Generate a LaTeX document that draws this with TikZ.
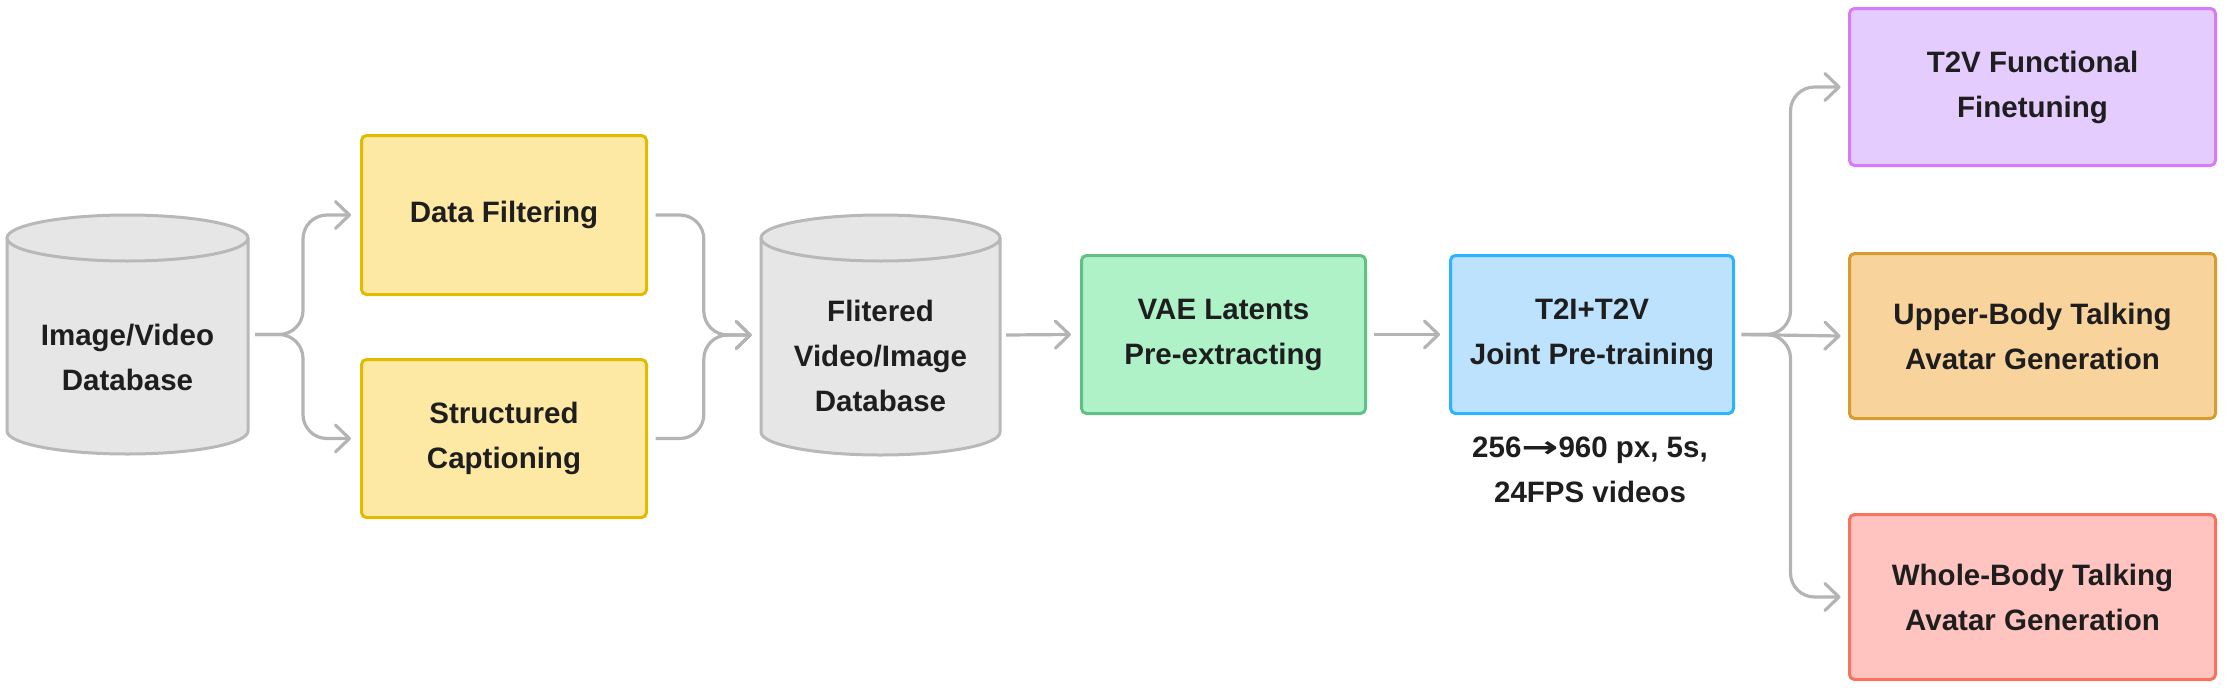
\documentclass[tikz,border=0pt]{standalone}
\usepackage{fontspec}
\setmainfont{Liberation Sans}
\newfontfamily\symfont{DejaVu Sans}
\usetikzlibrary{arrows.meta}
\definecolor{txt}{HTML}{1E1E1E}
\definecolor{arr}{HTML}{B4B4B4}
\definecolor{cylfill}{HTML}{E6E6E6}
\definecolor{cylline}{HTML}{B8B8B8}
\definecolor{yfill}{HTML}{FEE9A4}
\definecolor{yline}{HTML}{E2BA00}
\definecolor{gfill}{HTML}{AFF2C8}
\definecolor{gline}{HTML}{62BF85}
\definecolor{bfill}{HTML}{BDE2FD}
\definecolor{bline}{HTML}{2DB2FF}
\definecolor{pfill}{HTML}{E5CCFF}
\definecolor{pline}{HTML}{D47CFB}
\definecolor{ofill}{HTML}{F9D39C}
\definecolor{oline}{HTML}{D89B32}
\definecolor{rfill}{HTML}{FFC4C0}
\definecolor{rline}{HTML}{F7735F}
\begin{document}
\begin{tikzpicture}[x=1pt,y=-1pt,
  font=\bfseries\fontsize{29.5}{45}\selectfont,
  box/.style={rectangle, rounded corners=5pt, line width=3pt, align=center, inner sep=0pt, text=txt},
  label/.style={align=center, inner sep=0pt, text=txt},
  holder/.style={rectangle, inner sep=0pt},
  conn/.style={draw=arr, line width=3.2pt, rounded corners=24pt, -{Straight Barb[length=14pt,width=27pt,round]}},
  cylline/.style={draw=cylline, line width=3pt}]
\useasboundingbox (0,0) rectangle (2228,688);

% --- database cylinder 1
\fill[cylfill] (7,238) -- (7,431) arc[start angle=180,end angle=360,x radius=120.5pt,y radius=23pt] -- (248,238) -- cycle;
\draw[cylline] (7,238) -- (7,431) arc[start angle=180,end angle=360,x radius=120.5pt,y radius=23pt] -- (248,238);
\draw[cylline, fill=cylfill] (127.5,238) ellipse [x radius=120.5pt, y radius=23pt];
\node[holder, minimum width=241pt, minimum height=241pt] (db1) at (127.5,334.5) {};
\node[label] (db1t) at (127.5,357) {Image/Video\\Database};

% --- database cylinder 2
\fill[cylfill] (761,238) -- (761,432) arc[start angle=180,end angle=360,x radius=119.5pt,y radius=23pt] -- (1000,238) -- cycle;
\draw[cylline] (761,238) -- (761,432) arc[start angle=180,end angle=360,x radius=119.5pt,y radius=23pt] -- (1000,238);
\draw[cylline, fill=cylfill] (880.5,238) ellipse [x radius=119.5pt, y radius=23pt];
\node[holder, minimum width=239pt, minimum height=242pt] (db2) at (880.5,335) {};
\node[label] (db2t) at (880.5,356) {Flitered\\Video/Image\\Database};

% --- boxes
\node[box, draw=yline, fill=yfill, minimum width=285pt, minimum height=159pt] (df) at (504,215) {Data Filtering};
\node[box, draw=yline, fill=yfill, minimum width=285pt, minimum height=158pt] (sc) at (504,438.5) {Structured\\Captioning};
\node[box, draw=gline, fill=gfill, minimum width=284pt, minimum height=158pt] (vae) at (1223.5,334.5) {VAE Latents\\Pre-extracting};
\node[box, draw=bline, fill=bfill, minimum width=283pt, minimum height=158pt] (t2i) at (1592,334.5) {T2I+T2V\\Joint Pre-training};
\node[label] (spec) at (1590,470) {256{\symfont\scalebox{1.5}[1]{→}}960 px, 5s,\\24FPS videos};
\node[box, draw=pline, fill=pfill, minimum width=366pt, minimum height=157pt] (ft) at (2032.5,87) {T2V Functional\\Finetuning};
\node[box, draw=oline, fill=ofill, minimum width=366pt, minimum height=165pt] (ub) at (2032.5,336) {Upper-Body Talking\\Avatar Generation};
\node[box, draw=rline, fill=rfill, minimum width=366pt, minimum height=165pt] (wb) at (2032.5,597) {Whole-Body Talking\\Avatar Generation};

% --- connectors
\draw[conn] ([xshift=7pt]db1.east) -| ([xshift=-57pt]df.west) -- ([xshift=-9pt]df.west);
\draw[conn] ([xshift=7pt]db1.east) -| ([xshift=-57pt]sc.west) -- ([xshift=-9pt]sc.west);
\draw[conn] ([xshift=7.5pt]df.east) -| ([xshift=-57pt]db2.west) -- ([xshift=-9pt]db2.west);
\draw[conn] ([xshift=7.5pt]sc.east) -| ([xshift=-57pt]db2.west) -- ([xshift=-9pt]db2.west);
\draw[conn] ([xshift=6pt]db2.east) -- ([xshift=-9pt]vae.west);
\draw[conn] ([xshift=6.5pt]vae.east) -- ([xshift=-9pt]t2i.west);
\draw[conn] ([xshift=6.5pt]t2i.east) -| ([xshift=-57.5pt]ft.west) -- ([xshift=-7.5pt]ft.west);
\draw[conn] ([xshift=6.5pt]t2i.east) -- ([xshift=-7.5pt]ub.west);
\draw[conn] ([xshift=6.5pt]t2i.east) -| ([xshift=-57.5pt]wb.west) -- ([xshift=-7.5pt]wb.west);
\end{tikzpicture}
\end{document}
